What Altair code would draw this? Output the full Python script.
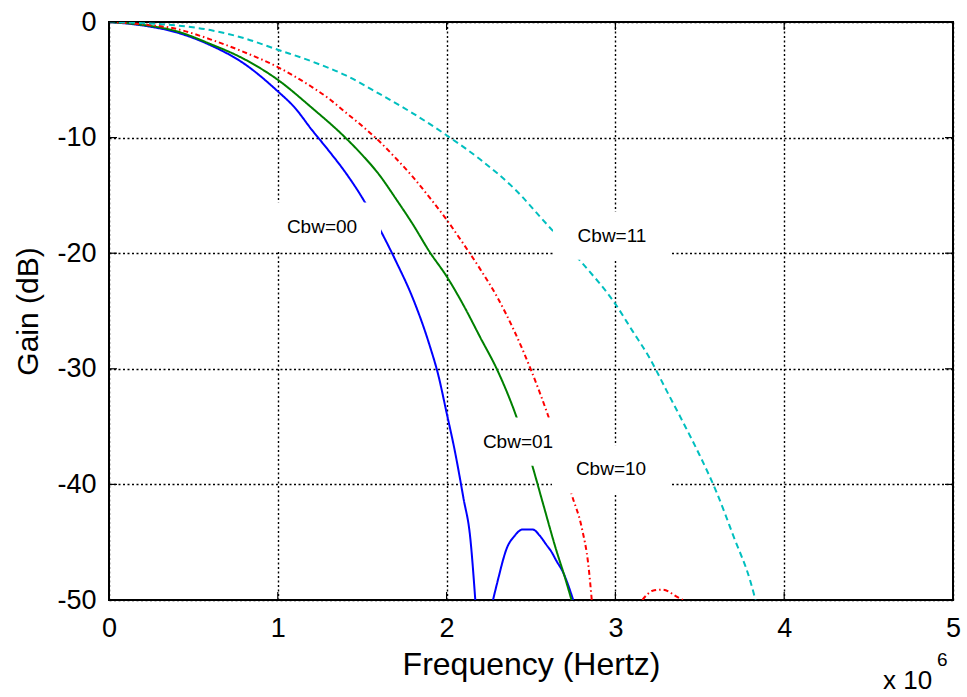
import altair as alt
import pandas as pd

# ---------------- data (frequency in units of 1e6 Hz, gain in dB) ----------------
# Cbw=00 (blue, solid): main lobe and the small side lobe
b_f = [0, 0.2, 0.4, 0.6, 0.8, 1.0, 1.1, 1.2, 1.3, 1.4, 1.5, 1.6, 1.7, 1.8, 1.9, 1.95, 2.0, 2.05, 2.1, 2.14, 2.17]
b_g = [0, -0.3, -0.9, -2.0, -3.6, -6.0, -7.4, -9.3, -11.1, -13.0, -15.2, -17.8, -20.7, -23.9, -28.0, -30.5, -33.8, -37.2, -41.2, -44.6, -50.0]
b2_f = [2.275, 2.30, 2.36, 2.40, 2.45, 2.51, 2.55, 2.59, 2.62, 2.65, 2.69, 2.72, 2.75]
b2_g = [-50.0, -48.5, -45.4, -44.5, -43.9, -43.9, -44.4, -45.2, -45.8, -46.6, -47.6, -48.7, -50.0]

# Cbw=01 (green, solid)
g_f = [0, 0.2, 0.4, 0.6, 0.8, 1.0, 1.2, 1.4, 1.5, 1.6, 1.7, 1.8, 1.9, 2.0, 2.1, 2.2, 2.3, 2.4, 2.5, 2.57, 2.65, 2.7, 2.74]
g_g = [0, -0.25, -0.8, -1.9, -3.2, -5.0, -7.4, -10.0, -11.5, -13.2, -15.3, -17.5, -19.9, -22.0, -24.5, -27.3, -30.1, -33.6, -38.0, -41.6, -45.7, -48.0, -50.0]

# Cbw=10 (red, dash-dot): main lobe and side lobe
r_f = [0, 0.2, 0.4, 0.6, 0.8, 1.0, 1.2, 1.3, 1.4, 1.5, 1.6, 1.7, 1.8, 1.9, 2.0, 2.1, 2.2, 2.3, 2.4, 2.5, 2.6, 2.7, 2.74, 2.8, 2.84, 2.86]
r_g = [0, -0.2, -0.6, -1.5, -2.6, -3.9, -5.6, -6.6, -7.8, -9.0, -10.3, -11.8, -13.4, -15.2, -17.1, -19.2, -21.4, -23.8, -26.7, -30.1, -34.0, -38.5, -40.8, -43.7, -47.0, -50.0]
r2_f = [3.16, 3.19, 3.22, 3.28, 3.32, 3.35, 3.40]
r2_g = [-50.0, -49.5, -49.2, -49.1, -49.3, -49.6, -50.0]

# Cbw=11 (cyan, dashed)
c_f = [0, 0.2, 0.4, 0.6, 0.8, 1.0, 1.2, 1.4, 1.6, 1.8, 2.0, 2.2, 2.4, 2.6, 2.8, 3.0, 3.1, 3.2, 3.3, 3.4, 3.5, 3.6, 3.7, 3.8, 3.83]
c_g = [0, -0.1, -0.3, -0.7, -1.4, -2.4, -3.4, -4.6, -6.2, -7.9, -9.8, -11.9, -14.4, -17.6, -20.8, -24.4, -26.7, -29.0, -31.8, -34.6, -37.5, -40.7, -44.5, -48.4, -50.0]

series_names = ["Cbw=00", "Cbw=01", "Cbw=10", "Cbw=11"]
series_colors = ["#0000FF", "#008000", "#FF0000", "#00BFBF"]
series_dash = [[1, 0], [1, 0], [5, 3, 1.5, 3], [6, 4]]

# in-plot labels (centre positions in data coordinates)
label_text = ["Cbw=00", "Cbw=11", "Cbw=01", "Cbw=10"]
label_f = [1.262, 2.98, 2.423, 2.974]
label_g = [-17.7, -18.5, -36.3, -38.7]

x_ticks = [0, 1, 2, 3, 4, 5]
y_ticks = [0, -10, -20, -30, -40, -50]

# ---------------- build tables ----------------
rows = []
for name, seg, fs, gs in [
    ("Cbw=00", "b1", b_f, b_g), ("Cbw=00", "b2", b2_f, b2_g),
    ("Cbw=01", "g1", g_f, g_g),
    ("Cbw=10", "r1", r_f, r_g), ("Cbw=10", "r2", r2_f, r2_g),
    ("Cbw=11", "c1", c_f, c_g),
]:
    for f, g in zip(fs, gs):
        rows.append({"series": name, "seg": seg, "f": f, "g": g})
lines_df = pd.DataFrame(rows)
labels_df = pd.DataFrame({"text": label_text, "f": label_f, "g": label_g})
xt_df = pd.DataFrame({"f": x_ticks})
yt_df = pd.DataFrame({"g": y_ticks})

FONT = "Liberation Sans"
W, H = 844, 578

x_enc = alt.X("f:Q", scale=alt.Scale(domain=[0, 5], nice=False, zero=False),
              axis=alt.Axis(values=x_ticks, labelExpr="'' + datum.value", title="Frequency (Hertz)",
                            grid=True, gridColor="black", gridDash=[2, 2.5], gridWidth=1.4,
                            gridOpacity=1, ticks=False, domain=False,
                            labelFont=FONT, labelFontSize=27, labelColor="black",
                            labelPadding=15, labelFlush=False, labelOverlap=False,
                            titleFont=FONT, titleFontSize=32, titleFontWeight="normal",
                            titleColor="black", titlePadding=8))
y_enc = alt.Y("g:Q", scale=alt.Scale(domain=[-50, 0], nice=False, zero=False),
              axis=alt.Axis(values=y_ticks, labelExpr="'' + datum.value", title="Gain (dB)",
                            grid=True, gridColor="black", gridDash=[2, 2.5], gridWidth=1.4,
                            gridOpacity=1, ticks=False, domain=False,
                            labelFont=FONT, labelFontSize=27, labelColor="black",
                            labelPadding=13, labelFlush=False, labelOverlap=False,
                            titleFont=FONT, titleFontSize=30, titleFontWeight="normal",
                            titleColor="black", titlePadding=13))

lines = alt.Chart(lines_df).mark_line(strokeWidth=2, clip=True, interpolate="monotone").encode(
    x=x_enc, y=y_enc,
    color=alt.Color("series:N", scale=alt.Scale(domain=series_names, range=series_colors), legend=None),
    strokeDash=alt.StrokeDash("series:N", scale=alt.Scale(domain=series_names, range=series_dash), legend=None),
    detail="seg:N",
)

box_shape = "M-1,-0.407L1,-0.407L1,0.407L-1,0.407Z"
boxes = alt.Chart(labels_df).mark_point(shape=box_shape, size=118 * 118, filled=True,
                                        color="white", opacity=1, strokeWidth=0).encode(
    x=x_enc, y=y_enc)

texts = alt.Chart(labels_df).mark_text(font=FONT, fontSize=19, color="black",
                                       align="center", baseline="middle").encode(
    x=x_enc, y=y_enc, text="text:N")

TL = 8
tick_left = alt.Chart(yt_df).mark_rule(color="black", strokeWidth=1.2).encode(
    y=y_enc, x=alt.value(0), x2=alt.value(TL))
tick_right = alt.Chart(yt_df).mark_rule(color="black", strokeWidth=1.2).encode(
    y=y_enc, x=alt.value(W - TL), x2=alt.value(W))
tick_bottom = alt.Chart(xt_df).mark_rule(color="black", strokeWidth=1.2).encode(
    x=x_enc, y=alt.value(H - TL), y2=alt.value(H))
tick_top = alt.Chart(xt_df).mark_rule(color="black", strokeWidth=1.2).encode(
    x=x_enc, y=alt.value(0), y2=alt.value(TL))

exp_base = alt.Chart(pd.DataFrame({"t": ["x 10"]})).mark_text(
    font=FONT, fontSize=26, color="black", align="left", baseline="alphabetic").encode(
    x=alt.value(774), y=alt.value(667), text="t:N")
exp_sup = alt.Chart(pd.DataFrame({"t": ["6"]})).mark_text(
    font=FONT, fontSize=19, color="black", align="left", baseline="alphabetic").encode(
    x=alt.value(828), y=alt.value(644), text="t:N")

chart = alt.layer(lines, boxes, texts, tick_left, tick_right, tick_bottom, tick_top,
                  exp_base, exp_sup).properties(
    width=W, height=H,
    padding={"left": 109, "top": 22, "right": 14, "bottom": 97},
    autosize=alt.AutoSizeParams(type="none"),
    background="white",
).configure_view(stroke="black", strokeWidth=2)

chart.save("out.html", embed_options={"renderer": "svg", "actions": False})
